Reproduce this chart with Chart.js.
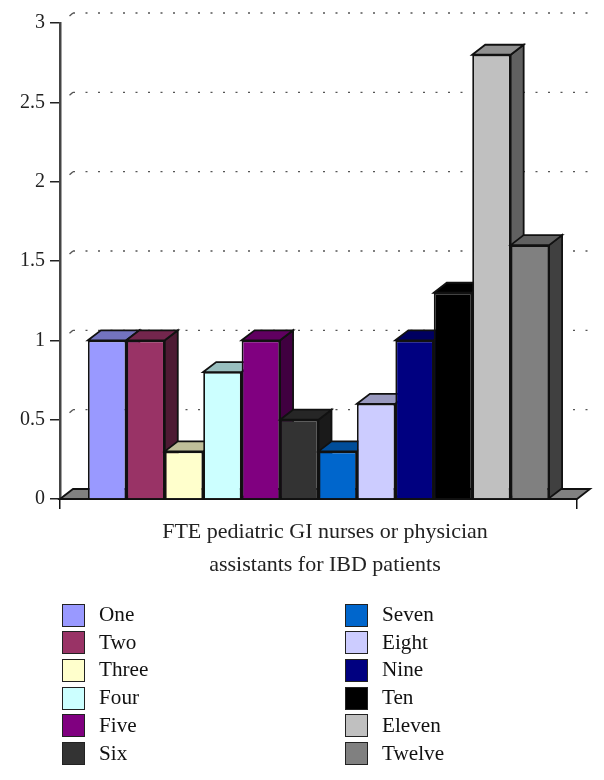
<!DOCTYPE html>
<html>
<head>
<meta charset="utf-8">
<script src="https://cdn.jsdelivr.net/npm/chart.js@4"></script>
<style>
  html, body { margin: 0; padding: 0; background: #fff; }
  #wrap { position: relative; width: 604px; height: 780px; overflow: hidden; }
  #leyenda span { position: absolute; font: 21.2px "Liberation Serif", serif; color: #111; line-height: 24px; white-space: nowrap; }
  #leyenda i { position: absolute; width: 21px; height: 21px; border: 1.5px solid #222; }
</style>
</head>
<body>
<div id="wrap">
  <canvas id="grafico" width="604" height="780"></canvas>
  <div id="leyenda"></div>
</div>
<script>
const categorias = [['FTE pediatric GI nurses or physician', 'assistants for IBD patients']];
const nombres = ['One', 'Two', 'Three', 'Four', 'Five', 'Six', 'Seven', 'Eight', 'Nine', 'Ten', 'Eleven', 'Twelve'];
const valores = [1, 1, 0.3, 0.8, 1, 0.5, 0.3, 0.6, 1, 1.3, 2.8, 1.6];
const colores = ['#9999ff', '#993366', '#ffffcc', '#ccffff', '#800080', '#333333', '#0066cc', '#ccccff', '#000080', '#000000', '#c0c0c0', '#808080'];
const ticksY = [0, 0.5, 1, 1.5, 2, 2.5, 3];

// Profundidad del efecto 3D
const DX = 13, DY = 10;

function oscurecer(hex, f) {
  const n = parseInt(hex.slice(1), 16);
  const c = [n >> 16, (n >> 8) & 255, n & 255].map(v => Math.round(v * f));
  return 'rgb(' + c.join(',') + ')';
}

function poligono(ctx, puntos, relleno) {
  ctx.beginPath();
  puntos.forEach((p, i) => i ? ctx.lineTo(p[0], p[1]) : ctx.moveTo(p[0], p[1]));
  ctx.closePath();
  ctx.fillStyle = relleno;
  ctx.fill();
  ctx.strokeStyle = '#111';
  ctx.lineWidth = 1.8;
  ctx.stroke();
}

// Pared de fondo, piso y barras en 3D
const barras3d = {
  id: 'barras3d',
  beforeDatasetsDraw(chart) {
    const ctx = chart.ctx, x = chart.scales.x, y = chart.scales.y;
    const base = y.getPixelForValue(0);
    ctx.save();

    ticksY.slice(1).forEach(v => {
      const py = y.getPixelForValue(v);
      ctx.strokeStyle = '#555';
      ctx.lineWidth = 1.4;
      ctx.setLineDash([]);
      ctx.beginPath();
      ctx.moveTo(x.left + 9.5, py - 7);
      ctx.lineTo(x.left + DX, py - DY);
      ctx.stroke();
      ctx.setLineDash([2, 10.5]);
      ctx.beginPath();
      ctx.moveTo(x.left + DX, py - DY);
      ctx.lineTo(x.right + DX, py - DY);
      ctx.stroke();
    });
    ctx.setLineDash([]);

    poligono(ctx, [[x.left, base], [x.left + DX, base - DY], [x.right + DX, base - DY], [x.right, base]], '#808080');

    chart.data.datasets.forEach((ds, i) => {
      const el = chart.getDatasetMeta(i).data[0];
      const izq = el.x - el.width / 2, der = el.x + el.width / 2;
      poligono(ctx, [[der, el.y], [der + DX, el.y - DY], [der + DX, el.base - DY], [der, el.base]], oscurecer(colores[i], 0.5));
      poligono(ctx, [[izq, el.y], [izq + DX, el.y - DY], [der + DX, el.y - DY], [der, el.y]], oscurecer(colores[i], 0.75));
      el.draw(ctx);
    });
    ctx.restore();
    return false;
  }
};

const grafico = new Chart(document.getElementById('grafico'), {
  type: 'bar',
  data: {
    labels: categorias,
    datasets: nombres.map((n, i) => ({
      label: n,
      data: [valores[i]],
      backgroundColor: colores[i],
      borderColor: '#111',
      borderWidth: 1.8
    }))
  },
  options: {
    responsive: false,
    animation: false,
    categoryPercentage: 0.892,
    barPercentage: 1,
    layout: { padding: { top: 23, right: 27, bottom: 0, left: 0 } },
    plugins: { legend: { display: false }, tooltip: { enabled: false } },
    scales: {
      x: {
        grid: { drawOnChartArea: false, color: '#111', lineWidth: 1.5, tickLength: 10 },
        border: { color: '#111', width: 1.5 },
        ticks: {
          color: '#222', padding: 7, maxRotation: 0, labelOffset: 6.5,
          font: { family: '"Liberation Serif", serif', size: 22, lineHeight: 1.5 }
        },
        afterFit(s) { s.height = 281; }
      },
      y: {
        min: 0,
        max: 3,
        afterBuildTicks(s) { s.ticks = ticksY.map(v => ({ value: v })); },
        grid: { drawOnChartArea: false, color: '#222', lineWidth: 1.5, tickLength: 10 },
        border: { color: '#444', width: 2.5 },
        ticks: {
          color: '#222', padding: 5,
          font: { family: '"Liberation Serif", serif', size: 20 },
          callback: v => String(v)
        },
        afterFit(s) { s.width = 60; }
      }
    }
  },
  plugins: [barras3d]
});

// Leyenda en dos columnas
const leyenda = document.getElementById('leyenda');
grafico.data.datasets.forEach((ds, i) => {
  const col = i < 6 ? 0 : 1, fila = i % 6;
  const marca = document.createElement('i');
  marca.style.cssText = 'left:' + (col ? 345 : 62) + 'px;top:' + (603.5 + fila * 27.7) + 'px;background:' + ds.backgroundColor;
  const texto = document.createElement('span');
  texto.textContent = ds.label;
  texto.style.cssText = 'left:' + (col ? 382 : 99) + 'px;top:' + (602 + fila * 27.7) + 'px';
  leyenda.append(marca, texto);
});
</script>
</body>
</html>
